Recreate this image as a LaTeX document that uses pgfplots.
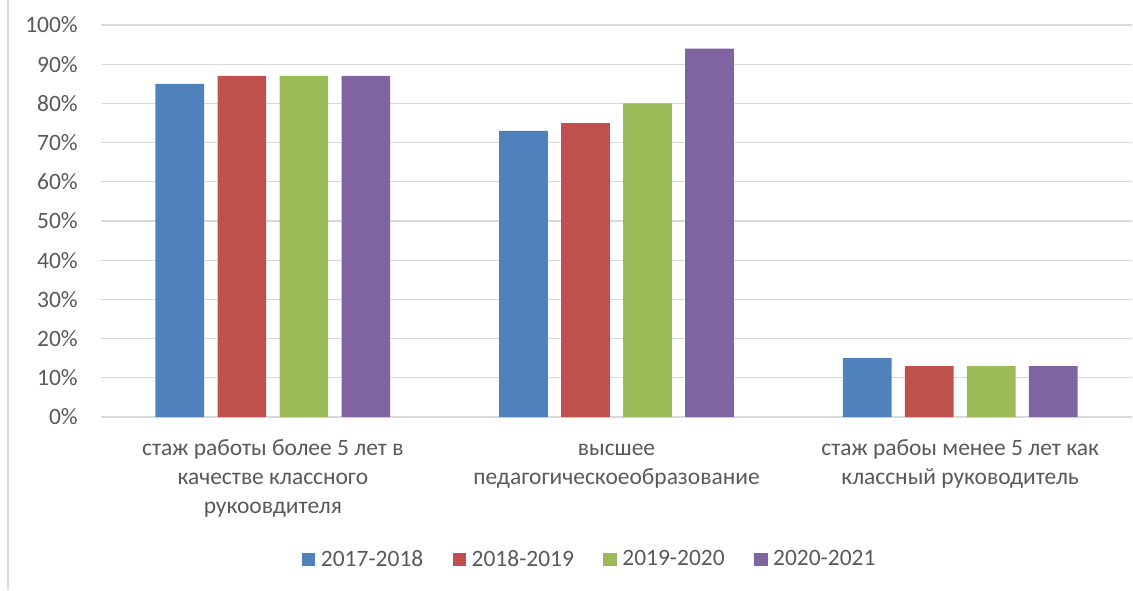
\documentclass[border=0pt]{standalone}
\usepackage{pgfplots}
\pgfplotsset{compat=1.18}
\usepackage{fontspec}
\setmainfont{Carlito}
\definecolor{c1}{HTML}{4F81BD}
\definecolor{c2}{HTML}{C0504D}
\definecolor{c3}{HTML}{9BBB59}
\definecolor{c4}{HTML}{8064A2}
\definecolor{gridc}{HTML}{D9D9D9}
\definecolor{textc}{HTML}{595959}
\begin{document}
\begin{tikzpicture}[x=0.75pt,y=0.75pt]
\path[use as bounding box] (0,0) rectangle (1133,590);
\draw[color=gridc, line width=1.5pt] (8,0) -- (8,590);
\begin{axis}[
  at={(75.75pt,129.75pt)}, anchor=south west, scale only axis,
  width=773.25pt, height=294pt,
  xmin=-0.5, xmax=2.5, ymin=0, ymax=100,
  ybar=10pt, bar width=36.5pt,
  axis line style={draw=none},
  major tick length=0pt,
  ymajorgrids, grid style={color=gridc, line width=1pt},
  ytick={0,10,...,100},
  yticklabels={0\%,10\%,20\%,30\%,40\%,50\%,60\%,70\%,80\%,90\%,100\%},
  xtick={0,1,2},
  xticklabels={{\strut стаж работы более 5 лет в\\\strut качестве классного\\\strut рукоовдителя},{\strut высшее\\\strut педагогическоеобразование},{\strut стаж рабоы менее 5 лет как\\\strut классный руководитель}},
  tick label style={font=\fontsize{17.6}{21.75}\selectfont, text=textc, inner sep=0pt},
  yticklabel style={xshift=-17.25pt},
  xticklabel style={align=center, yshift=-13.3pt},
  legend columns=4,
  legend style={at={(0.473,-0.363)}, anchor=center, draw=none, fill=none,
    font=\fontsize{17.6}{21.75}\selectfont, text=textc,
    nodes={inner sep=0pt},
    /tikz/every odd column/.append style={column sep=4.2pt},
    /tikz/every even column/.append style={column sep=22pt}},
  sq/.style={legend image code/.code={\fill[##1] (0pt,-5.1pt) rectangle (10.1pt,5.1pt);}},
]
\addplot[fill=c1, draw=none, sq] coordinates {(0,85) (1,73) (2,15)};
\addplot[fill=c2, draw=none, sq] coordinates {(0,87) (1,75) (2,13)};
\addplot[fill=c3, draw=none, sq] coordinates {(0,87) (1,80) (2,13)};
\addplot[fill=c4, draw=none, sq] coordinates {(0,87) (1,94) (2,13)};
\legend{2017-2018,2018-2019,2019-2020,2020-2021}
\end{axis}
\end{tikzpicture}
\end{document}
